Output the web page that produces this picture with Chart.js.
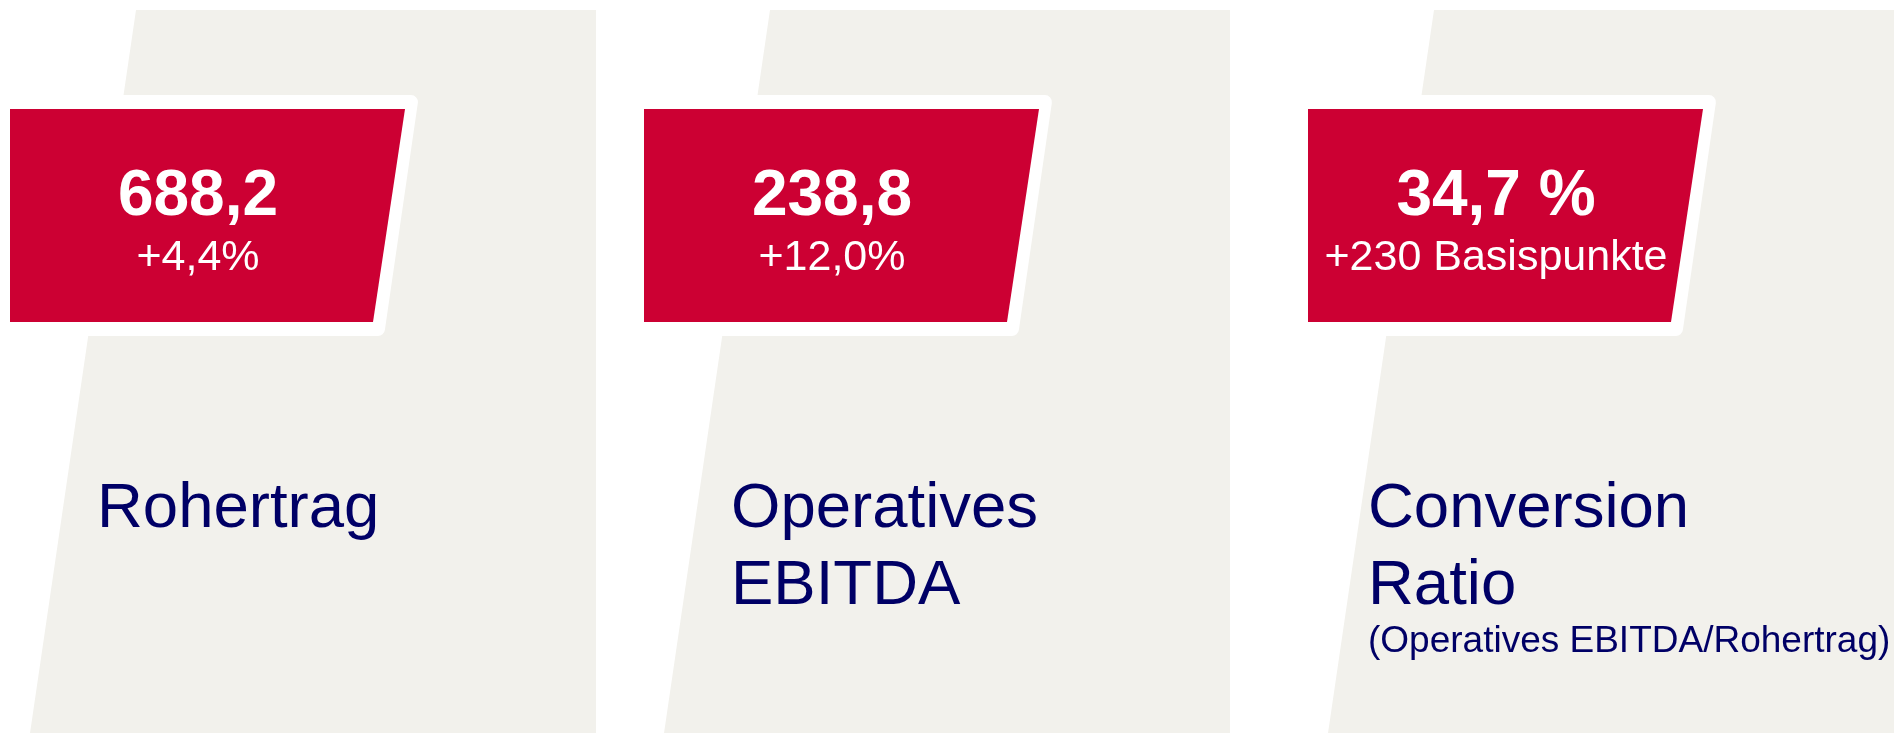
<!DOCTYPE html>
<html lang="de">
<head>
<meta charset="utf-8">
<title>Kennzahlen</title>
<script src="https://cdn.jsdelivr.net/npm/chart.js@4"></script>
<style>
  html, body { margin: 0; padding: 0; background: #ffffff; }
  #wrap { width: 1902px; height: 733px; position: relative; }
</style>
</head>
<body>
<div id="wrap"><canvas id="kpis"></canvas></div>
<script>
// KPI values
const kpiNames = [['Rohertrag'], ['Operatives', 'EBITDA'], ['Conversion', 'Ratio']];
const kpiNotes = ['', '', '(Operatives EBITDA/Rohertrag)'];
const kpiValues = [688.2, 238.8, 34.7];
const kpiUnits = ['', '', ' %'];
const kpiChanges = ['+4,4%', '+12,0%', '+230 Basispunkte'];

// left edge of each tile (layout, not data)
const tileLeft = [0, 634, 1298];
const labelIndent = [97, 97, 70];

const RED = '#cc0033';
const GREY = '#f2f1ec';
const NAVY = '#000066';
const FONT = '"Liberation Sans", Arial, Helvetica, sans-serif';

function fmt(v) {
  return v.toFixed(1).replace('.', ',');
}

function poly(ctx, pts) {
  ctx.beginPath();
  ctx.moveTo(pts[0][0], pts[0][1]);
  for (let i = 1; i < pts.length; i++) ctx.lineTo(pts[i][0], pts[i][1]);
  ctx.closePath();
}

// rounded polygon for the white frame
function roundPoly(ctx, pts, r) {
  ctx.beginPath();
  const n = pts.length;
  const start = [(pts[0][0] + pts[n - 1][0]) / 2, (pts[0][1] + pts[n - 1][1]) / 2];
  ctx.moveTo(start[0], start[1]);
  for (let i = 0; i < n; i++) {
    const p = pts[i], q = pts[(i + 1) % n];
    ctx.arcTo(p[0], p[1], q[0], q[1], p[2] ? r : 0.01);
  }
  ctx.closePath();
}

const tilePlugin = {
  id: 'tiles',
  beforeDatasetsDraw(chart) {
    const ctx = chart.ctx;
    const xs = chart.scales.x;
    const ys = chart.scales.y;
    const X = v => xs.getPixelForValue(v);
    const Y = v => ys.getPixelForValue(v);

    kpiValues.forEach((value, i) => {
      const o = tileLeft[i];
      ctx.save();

      // grey slanted background
      ctx.fillStyle = GREY;
      poly(ctx, [[X(o + 136), Y(10)], [X(o + 596), Y(10)], [X(o + 596), Y(740)], [X(o + 29), Y(740)]]);
      ctx.fill();

      // white frame round the red box
      ctx.fillStyle = '#ffffff';
      roundPoly(ctx, [
        [X(o - 2), Y(95), false],
        [X(o + 419), Y(95), true],
        [X(o + 384), Y(336), true],
        [X(o - 2), Y(336), false]
      ], 7);
      ctx.fill();

      // red box
      ctx.fillStyle = RED;
      poly(ctx, [[X(o + 10), Y(109)], [X(o + 405), Y(109)], [X(o + 373), Y(322)], [X(o + 10), Y(322)]]);
      ctx.fill();

      // value and change
      ctx.fillStyle = '#ffffff';
      ctx.textAlign = 'center';
      ctx.textBaseline = 'alphabetic';
      ctx.font = 'bold 64px ' + FONT;
      ctx.fillText(fmt(value) + kpiUnits[i], X(o + 198), Y(215));
      ctx.font = '43px ' + FONT;
      ctx.fillText(kpiChanges[i], X(o + 198), Y(270));

      // label below
      ctx.fillStyle = NAVY;
      ctx.textAlign = 'left';
      ctx.font = '63.5px ' + FONT;
      kpiNames[i].forEach((line, j) => {
        ctx.fillText(line, X(o + labelIndent[i]), Y(527 + j * 77));
      });
      if (kpiNotes[i]) {
        ctx.font = '37px ' + FONT;
        ctx.fillText(kpiNotes[i], X(o + labelIndent[i]), Y(527 + kpiNames[i].length * 77 - 29));
      }
      ctx.restore();
    });
  }
};

new Chart(document.getElementById('kpis'), {
  type: 'scatter',
  data: {
    datasets: [{
      label: 'Kennzahlen',
      data: kpiValues.map((v, i) => ({ x: tileLeft[i] + 198, y: 200 })),
      pointRadius: 0,
      pointHoverRadius: 0
    }]
  },
  options: {
    responsive: true,
    maintainAspectRatio: false,
    animation: false,
    layout: { padding: 0 },
    plugins: { legend: { display: false }, tooltip: { enabled: false } },
    scales: {
      x: { type: 'linear', min: 0, max: 1902, display: false },
      y: { type: 'linear', min: 0, max: 733, reverse: true, display: false }
    }
  },
  plugins: [tilePlugin]
});
</script>
</body>
</html>
